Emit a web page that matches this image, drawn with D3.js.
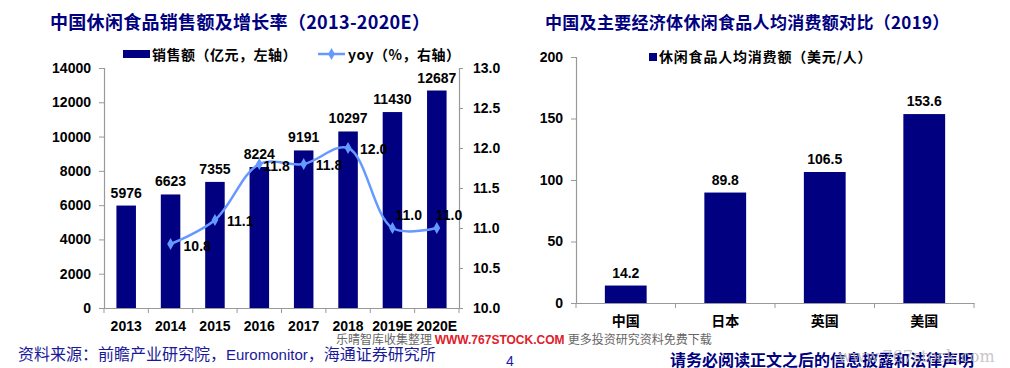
<!DOCTYPE html>
<html><head><meta charset="utf-8">
<script src="https://cdn.jsdelivr.net/npm/d3@7/dist/d3.min.js"></script>
<style>
body{margin:0;background:#fff;}
svg text{font-family:Arial,"Liberation Sans","Noto Sans CJK SC",sans-serif;}
</style></head>
<body><svg id="c" width="1010" height="368"></svg>
<script>
// ---- data ----
const years = ["2013","2014","2015","2016","2017","2018","2019E","2020E"];
const sales = [5976,6623,7355,8224,9191,10297,11430,12687];
const yoy = [null,10.8,11.1,11.8,11.8,12.0,11.0,11.0];
const leftTicks = [0,2000,4000,6000,8000,10000,12000,14000];
const rightTicks = [10.0,10.5,11.0,11.5,12.0,12.5,13.0];
const countries = ["中国","日本","英国","美国"];
const perCapita = [14.2,89.8,106.5,153.6];
const rTicks = [0,50,100,150,200];
const title1 = "中国休闲食品销售额及增长率（2013-2020E）";
const title2 = "中国及主要经济体休闲食品人均消费额对比（2019）";
const legend1a = "销售额（亿元，左轴）";
const legend1b = "yoy（%，右轴）";
const legend2 = "休闲食品人均消费额（美元/人）";

const NAVY = "#000080", LINE = "#6699ff", CJK = "'Noto Sans CJK SC',sans-serif";
const svg = d3.select("#c");

// ---- Left chart ----
const L = {x0:104, x1:459, y0:308, y1:68};
const x = d3.scaleBand().domain(years).range([L.x0, L.x1]).paddingInner(0.56).paddingOuter(0.28);
const xb = d3.scaleBand().domain(years).range([L.x0, L.x1]);
const yL = d3.scaleLinear().domain([0,14000]).range([L.y0, L.y1]);
const yR = d3.scaleLinear().domain([10,13]).range([L.y0, L.y1]);

svg.append("text").attr("x",50).attr("y",29).attr("fill",NAVY)
  .style("font-size","18px").style("font-weight","bold").style("font-family",CJK)
  .style("letter-spacing","0.3px").text(title1);

const g1 = svg.append("g");
g1.selectAll("rect.b").data(sales).join("rect").attr("class","b")
  .attr("x",(d,i)=>x(years[i])).attr("width",x.bandwidth())
  .attr("y",d=>yL(d)).attr("height",d=>yL(0)-yL(d)).attr("fill",NAVY);
g1.selectAll("text.v").data(sales).join("text").attr("class","v")
  .attr("x",(d,i)=>x(years[i])+x.bandwidth()/2).attr("y",d=>yL(d)-8)
  .attr("text-anchor","middle").style("font-size","14px").style("font-weight","bold").text(d=>d);

// axes
const axL = g1.append("g").attr("transform",`translate(${L.x0},0)`)
  .call(d3.axisLeft(yL).tickValues(leftTicks).tickSize(5).tickPadding(8).tickFormat(d3.format("d")));
const axR = g1.append("g").attr("transform",`translate(${L.x1},0)`)
  .call(d3.axisRight(yR).tickValues(rightTicks).tickSize(4).tickPadding(10).tickFormat(d3.format(".1f")));
const axB = g1.append("g").attr("transform",`translate(0,${L.y0})`)
  .call(d3.axisBottom(xb).tickSize(0).tickPadding(13));
g1.selectAll("line.bt").data(d3.range(years.length+1)).join("line").attr("class","bt")
  .attr("x1",i=>L.x0+i*xb.step()).attr("x2",i=>L.x0+i*xb.step())
  .attr("y1",L.y0).attr("y2",L.y0+5).attr("stroke","#999");
[axL,axR,axB].forEach(a=>{
  a.select(".domain").attr("stroke","#999").attr("stroke-width",1.2);
  a.selectAll(".tick line").attr("stroke","#999");
  a.selectAll("text").attr("fill","#000").style("font-size","14px").style("font-weight","bold")
    .style("font-family","Arial,'Liberation Sans',sans-serif");
});
axB.selectAll("text").attr("dy","0.71em");

// line
const pts = yoy.map((v,i)=>({v,i})).filter(d=>d.v!==null);
const cx = i=>x(years[i])+x.bandwidth()/2;
const line = d3.line().x(d=>cx(d.i)).y(d=>yR(d.v)).curve(d3.curveCatmullRom.alpha(0.5));
g1.append("path").datum(pts).attr("d",line).attr("fill","none").attr("stroke",LINE).attr("stroke-width",2.5);
const diamond = d3.symbol().type(d3.symbolDiamond).size(40);
g1.selectAll("path.m").data(pts).join("path").attr("class","m")
  .attr("d",diamond).attr("transform",d=>`translate(${cx(d.i)},${yR(d.v)})`).attr("fill",LINE);
const ldx = [0,13,12,4,12,12,3,-1], ldy = [0,7,6,7,6,6,-8,-8];
g1.selectAll("text.l").data(pts).join("text").attr("class","l")
  .attr("x",d=>cx(d.i)+ldx[d.i]).attr("y",d=>yR(d.v)+ldy[d.i])
  .style("font-size","14px").style("font-weight","bold").text(d=>d3.format(".1f")(d.v));

// legend left
svg.append("rect").attr("x",123).attr("y",50).attr("width",27).attr("height",8).attr("fill",NAVY);
svg.append("text").attr("x",152).attr("y",60).style("font-size","14px").style("font-weight","bold")
  .style("font-family",CJK).style("letter-spacing","0.5px").text(legend1a);
svg.append("line").attr("x1",318).attr("x2",345).attr("y1",54).attr("y2",54).attr("stroke",LINE).attr("stroke-width",2.5);
svg.append("path").attr("d",diamond).attr("transform","translate(331.5,54)").attr("fill",LINE);
svg.append("text").attr("x",348).attr("y",60).style("font-size","14px").style("font-weight","bold")
  .style("font-family",CJK).style("letter-spacing","0.5px").text(legend1b);

// ---- Right chart ----
const R = {x0:576, x1:974, y0:303, y1:57};
const x2 = d3.scaleBand().domain(countries).range([R.x0,R.x1]).paddingInner(0.58).paddingOuter(0.29);
const x2b = d3.scaleBand().domain(countries).range([R.x0,R.x1]);
const y2 = d3.scaleLinear().domain([0,200]).range([R.y0,R.y1]);

svg.append("text").attr("x",545).attr("y",29).attr("fill",NAVY)
  .style("font-size","17px").style("font-weight","bold").style("font-family",CJK)
  .style("letter-spacing","0.3px").text(title2);

const g2 = svg.append("g");
g2.selectAll("rect").data(perCapita).join("rect")
  .attr("x",(d,i)=>x2(countries[i])).attr("width",x2.bandwidth())
  .attr("y",d=>y2(d)).attr("height",d=>y2(0)-y2(d)).attr("fill",NAVY);
g2.selectAll("text.v").data(perCapita).join("text").attr("class","v")
  .attr("x",(d,i)=>x2(countries[i])+x2.bandwidth()/2).attr("y",d=>y2(d)-8)
  .attr("text-anchor","middle").style("font-size","14px").style("font-weight","bold").text(d=>d3.format(".1f")(d));
const ax2L = g2.append("g").attr("transform",`translate(${R.x0},0)`)
  .call(d3.axisLeft(y2).tickValues(rTicks).tickSize(5).tickPadding(8));
const ax2B = g2.append("g").attr("transform",`translate(0,${R.y0})`)
  .call(d3.axisBottom(x2b).tickSize(0).tickPadding(13));
g2.selectAll("line.bt").data(d3.range(countries.length+1)).join("line").attr("class","bt")
  .attr("x1",i=>R.x0+i*x2b.step()).attr("x2",i=>R.x0+i*x2b.step())
  .attr("y1",R.y0).attr("y2",R.y0+5).attr("stroke","#999");
[ax2L,ax2B].forEach(a=>{
  a.select(".domain").attr("stroke","#999").attr("stroke-width",1.2);
  a.selectAll(".tick line").attr("stroke","#999");
  a.selectAll("text").attr("fill","#000").style("font-size","14px").style("font-weight","bold");
});
ax2L.selectAll("text").style("font-family","Arial,'Liberation Sans',sans-serif");
ax2B.selectAll("text").style("font-family",CJK).attr("dy","0.71em");

svg.append("rect").attr("x",649).attr("y",53).attr("width",8).attr("height",8).attr("fill",NAVY);
svg.append("text").attr("x",659).attr("y",62).style("font-size","14px").style("font-weight","bold")
  .style("font-family",CJK).style("letter-spacing","0.8px").text(legend2);

// ---- footer / watermarks ----
const src = svg.append("text").attr("x",18).attr("y",360).attr("fill","#1a1a99").style("font-size","16px")
  .style("font-family",CJK);
src.append("tspan").text("资料来源：前瞻产业研究院，");
src.append("tspan").style("font-family","Arial,sans-serif").style("font-size","15px").text("Euromonitor");
src.append("tspan").text("，海通证券研究所");
svg.append("rect").attr("x",334).attr("y",333).attr("width",378).attr("height",14).attr("fill","#fff");
const wm = svg.append("text").attr("x",336).attr("y",344).style("font-size","12px");
wm.append("tspan").attr("fill","#666").style("font-family",CJK).text("乐晴智库收集整理 ");
wm.append("tspan").attr("fill","#e0202a").style("font-weight","bold").text("WWW.767STOCK.COM ");
wm.append("tspan").attr("fill","#666").style("font-family",CJK).text("更多投资研究资料免费下载");
svg.append("text").attr("x",510).attr("y",366).attr("fill","#1a1ab0").attr("text-anchor","middle")
  .style("font-size","14px").text("4");
svg.append("text").attr("x",670).attr("y",366).attr("fill",NAVY).style("font-size","16px").style("font-weight","bold")
  .style("font-family",CJK).text("请务必阅读正文之后的信息披露和法律声明");
svg.append("text").attr("x",838).attr("y",362).attr("fill","#bbb").attr("opacity",0.8)
  .style("font-size","16px").style("font-family","'DejaVu Serif',serif").text("www.767stock.com");
</script></body></html>
